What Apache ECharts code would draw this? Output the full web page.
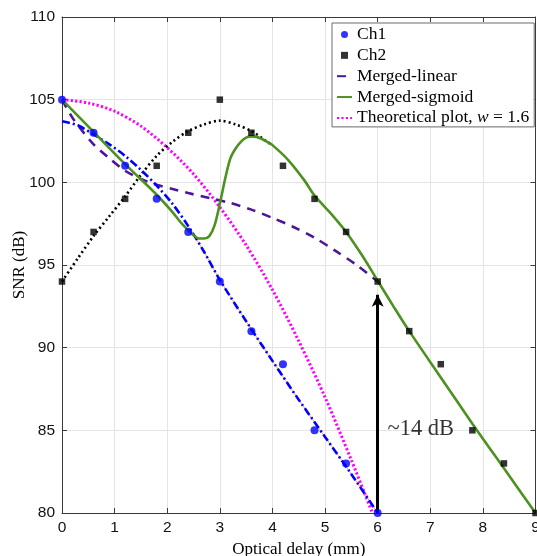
<!DOCTYPE html>
<html><head><meta charset="utf-8">
<script src="https://cdn.jsdelivr.net/npm/echarts@6/dist/echarts.min.js"></script>
<style>html,body{margin:0;padding:0;background:#fff}#c{width:537px;height:556px}</style>
</head><body><div id="c"></div>
<script>
// ---- data ----
const xTicks = [0,1,2,3,4,5,6,7,8,9];
const yTicks = [80,85,90,95,100,105,110];

const ch1X = [0,0.6,1.2,1.8,2.4,3,3.6,4.2,4.8,5.4,6];
const ch1Y = [105,103,101,99,97,94,91,89,85,83,80];

const ch2X = [0,0.6,1.2,1.8,2.4,3,3.6,4.2,4.8,5.4,6,6.6,7.2,7.8,8.4,9];
const ch2Y = [94,97,99,101,103,105,103,101,99,97,94,91,89,85,83,80];

const ch1FitX = [0,0.3,0.6,0.9,1.2,1.5,1.8,2.1,2.4,2.7,3.0,3.5,4.0,4.5,5.0,5.5,6.0];
const ch1FitY = [103.7,103.45,102.9,102.3,101.6,100.75,99.8,98.7,97.35,95.8,94.1,91.6,89.2,86.85,84.6,82.35,80.0];

const ch2FitX = [0,0.3,0.6,0.9,1.2,1.5,1.8,2.1,2.4,2.7,3.0,3.3,3.6,3.9,4.0];
const ch2FitY = [94.0,95.4,96.75,97.95,99.15,100.45,101.6,102.45,103.1,103.5,103.73,103.5,103.1,102.45,102.25];

const linX = [0,0.2,0.4,0.6,0.9,1.2,1.5,1.8,2.1,2.4,2.8,3.2,3.6,4.0,4.4,4.8,5.2,5.6,6.0];
const linY = [105,103.9,103.05,102.3,101.45,100.7,100.2,99.85,99.6,99.35,99.05,98.75,98.35,97.85,97.3,96.65,95.85,95.0,94.0];

const sigX = [0,0.6,1.2,1.8,2.1,2.25,2.4,2.5,2.6,2.7,2.8,2.9,3.0,3.1,3.2,3.3,3.4,3.5,3.6,3.7,3.8,3.9,4.0,4.3,4.6,4.8,5.1,5.4,5.7,6.0,6.3,6.6,7.2,7.8,8.4,9.0];
const sigY = [105,103.05,101.1,99.25,98.2,97.6,97.1,96.8,96.6,96.6,96.75,97.4,98.7,100.2,101.45,102.05,102.45,102.7,102.78,102.75,102.62,102.45,102.25,101.35,100.15,99.2,98.15,97.0,95.6,94.05,92.5,91.0,88.2,85.4,82.7,80.0];

const theoX = [0,0.5,1,1.5,2,2.5,3,3.5,4,4.5,5,5.5,5.9];
const theoY = [105,104.8,104.3,103.4,102.1,100.5,98.5,96.2,93.5,90.4,87.0,83.2,80.0];

const arrowX = [6,6];
const arrowY = [80,93.2];
const noteText = '~14 dB';
const noteXY = [6.82,85.1];

// ---- build ----
const pts = (xs, ys) => xs.map((x, i) => [x, ys[i]]);
const serif = 'Liberation Serif, "Times New Roman", serif';
const sans = 'Liberation Sans, Arial, sans-serif';
const axisCol = '#3a3a3a';
const THEO = 'Theoretical plot, w = 1.6';
const noSym = {color: 'rgba(0,0,0,0)', borderColor: 'rgba(0,0,0,0)', borderWidth: 0, opacity: 0};

const chart = echarts.init(document.getElementById('c'), null, {renderer: 'canvas'});

chart.setOption({
  animation: false,
  backgroundColor: '#fff',
  grid: {left: 62, right: 1.5, top: 17, bottom: 43, containLabel: false, outerBoundsMode: 'none'},
  legend: {
    data: [
      {name: 'Ch1'},
      {name: 'Ch2', icon: 'path://M0,0h1v1h-1z'},
      {name: 'Merged-linear', itemStyle: noSym},
      {name: 'Merged-sigmoid', itemStyle: noSym},
      {name: THEO, itemStyle: noSym}
    ],
    orient: 'vertical',
    left: 332, top: 23,
    padding: [2.5, 5, 0, 4],
    itemGap: 2.85,
    itemWidth: 15, itemHeight: 7,
    backgroundColor: '#fff',
    borderColor: '#6a6a6a', borderWidth: 1,
    textStyle: {fontFamily: serif, fontSize: 17.5, color: '#000',
      rich: {n: {fontFamily: serif, fontSize: 17.5, color: '#000'},
             i: {fontFamily: serif, fontSize: 17.5, color: '#000', fontStyle: 'italic'}}},
    formatter: name => name === THEO ? '{n|Theoretical plot, }{i|w}{n| = 1.6}' : name
  },
  xAxis: [{
    type: 'value', min: xTicks[0], max: xTicks[xTicks.length-1], interval: 1, position: 'bottom',
    name: 'Optical delay (mm)', nameLocation: 'middle', nameGap: 26,
    nameTextStyle: {fontFamily: serif, fontSize: 17, color: '#000'},
    axisLine: {show: true, onZero: false, lineStyle: {color: axisCol, width: 1}},
    axisTick: {show: true, inside: true, length: 5, lineStyle: {color: axisCol}},
    axisLabel: {fontFamily: sans, fontSize: 15.5, color: '#111', margin: 7, showMinLabel: true, showMaxLabel: true},
    splitLine: {show: true, lineStyle: {color: '#e4e4e4', width: 1}}
  }, {
    type: 'value', min: xTicks[0], max: xTicks[xTicks.length-1], interval: 1, position: 'top',
    axisLine: {show: true, onZero: false, lineStyle: {color: axisCol, width: 1}},
    axisTick: {show: true, inside: true, length: 5, lineStyle: {color: axisCol}},
    axisLabel: {show: false}, splitLine: {show: false}
  }],
  yAxis: [{
    type: 'value', min: yTicks[0], max: yTicks[yTicks.length-1], interval: 5, position: 'left',
    name: 'SNR (dB)', nameLocation: 'middle', nameGap: 34, nameRotate: 90, nameMoveOverlap: false,
    nameTextStyle: {fontFamily: serif, fontSize: 17, color: '#000'},
    axisLine: {show: true, onZero: false, lineStyle: {color: axisCol, width: 1}},
    axisTick: {show: true, inside: true, length: 5, lineStyle: {color: axisCol}},
    axisLabel: {fontFamily: sans, fontSize: 15.5, color: '#111', margin: 7},
    splitLine: {show: true, lineStyle: {color: '#e4e4e4', width: 1}}
  }, {
    type: 'value', min: yTicks[0], max: yTicks[yTicks.length-1], interval: 5, position: 'right',
    axisLine: {show: true, onZero: false, lineStyle: {color: axisCol, width: 1}},
    axisTick: {show: true, inside: true, length: 5, lineStyle: {color: axisCol}},
    axisLabel: {show: false}, splitLine: {show: false}
  }],
  series: [
    {name: THEO, type: 'line', data: pts(theoX, theoY), symbol: 'none', smooth: 0.3, z: 2,
     lineStyle: {color: '#ff00ff', width: 3, type: [2.2, 2.2]}, itemStyle: {color: '#ff00ff'}},
    {name: 'Merged-linear', type: 'line', data: pts(linX, linY), symbol: 'none', smooth: 0.3, z: 3,
     lineStyle: {color: '#4c169a', width: 2.6, type: [9, 7]}, itemStyle: {color: '#4c169a'}},
    {name: 'Ch2 fit', type: 'line', data: pts(ch2FitX, ch2FitY), symbol: 'none', smooth: 0.3, z: 3,
     lineStyle: {color: '#000', width: 2.6, type: [2, 3]}},
    {name: 'Ch1 fit thin', type: 'line', data: pts(ch1FitX.slice(8), ch1FitY.slice(8)), symbol: 'none', smooth: 0.3, z: 3,
     lineStyle: {color: '#f2a46a', width: 1}},
    {name: 'Ch1 fit', type: 'line', data: pts(ch1FitX, ch1FitY), symbol: 'none', smooth: 0.3, z: 4,
     lineStyle: {color: '#0000ff', width: 2.6, type: [8, 3, 2, 3]}},
    {name: 'Merged-sigmoid', type: 'line', data: pts(sigX, sigY), symbol: 'none', smooth: 0.3, z: 5,
     lineStyle: {color: '#4d9221', width: 2.6}, itemStyle: {color: '#4d9221'}},
    {name: 'Arrow', type: 'line', data: [], symbol: 'none', z: 6,
     markLine: {silent: true, symbol: ['none', 'arrow'], symbolSize: [9, 12],
       lineStyle: {color: '#000', width: 3, type: 'solid'}, label: {show: false},
       data: [[{coord: [arrowX[0], arrowY[0]]}, {coord: [arrowX[1], arrowY[1]]}]]}},
    {name: 'Note', type: 'scatter', data: [noteXY], symbolSize: 1, z: 6,
     itemStyle: {color: 'rgba(0,0,0,0)'},
     label: {show: true, position: 'inside', formatter: noteText, fontFamily: serif, fontSize: 22.5, color: '#000'}},
    {name: 'Ch1', type: 'scatter', data: pts(ch1X, ch1Y), symbol: 'circle', symbolSize: 8, z: 7,
     itemStyle: {color: '#0000ff'}},
    {name: 'Ch2', type: 'scatter', data: pts(ch2X, ch2Y), symbol: 'rect', symbolSize: 6.5, z: 7,
     itemStyle: {color: '#000'}}
  ]
});
</script></body></html>
